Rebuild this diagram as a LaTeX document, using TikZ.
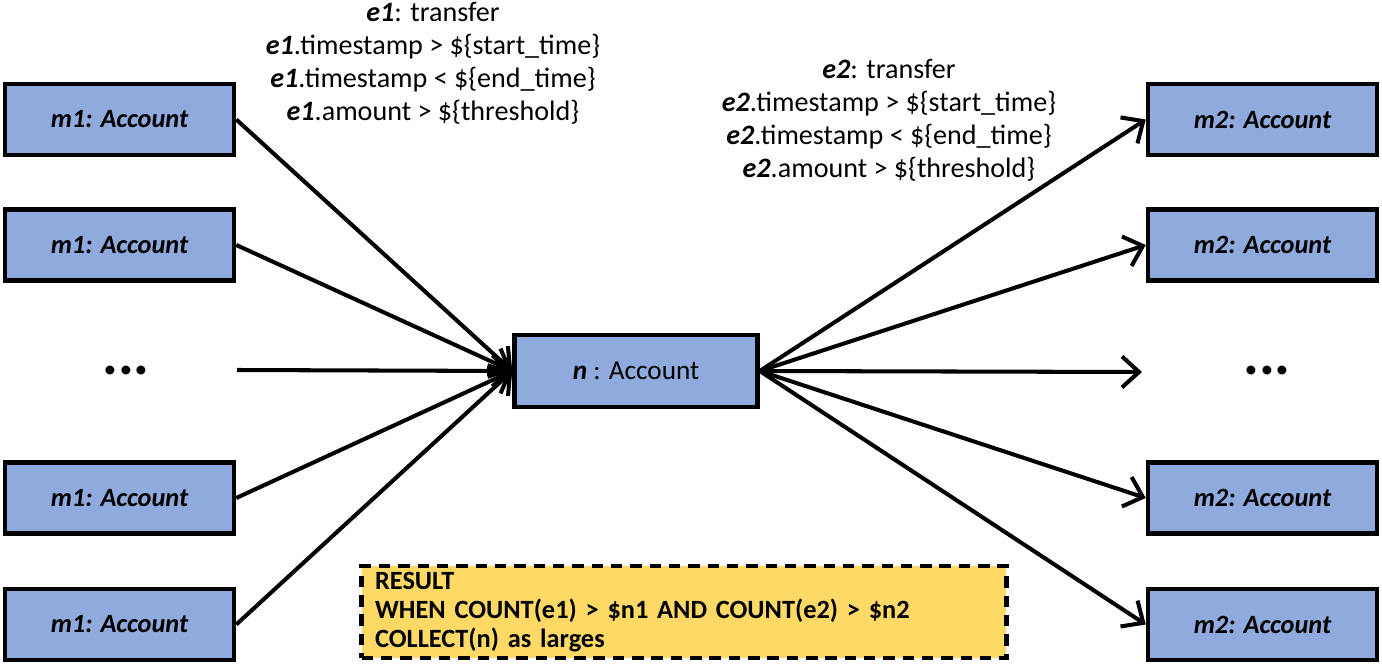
\documentclass[tikz,border=0pt]{standalone}
\usepackage{fontspec}
\setmainfont{Carlito}
\usetikzlibrary{arrows.meta}

\definecolor{acctblue}{HTML}{8FAADC}
\definecolor{resyellow}{HTML}{FFD966}

\tikzset{
    account/.style={draw=black, line width=2.6pt, fill=acctblue,
        minimum width=4.58cm, minimum height=1.42cm, inner sep=0pt,
        font=\fontsize{15}{18}\selectfont\bfseries\itshape},
    hub/.style={account, minimum width=4.86cm, minimum height=1.44cm,
        font=\fontsize{15.5}{18}\selectfont},
    conds/.style={align=center, inner sep=0pt,
        font=\fontsize{16}{18.7}\selectfont},
    edge/.style={line width=2.3pt, -{Straight Barb[length=0.34cm,width=0.62cm,line width=2.3pt]}},
    dots/.style={font=\fontsize{34}{34}\selectfont\bfseries\itshape, inner sep=0pt}
}

\begin{document}
\begin{tikzpicture}[x=0.02cm, y=-0.02cm]
    % Frame
    \useasboundingbox (0,0) rectangle (1382,669);

    % Center account
    \node[hub] (n) at (636,371) {\textbf{\textit{n}} : Account};

    % Left accounts
    \node[account] (m1a) at (119.5,119.5) {m1: Account};
    \node[account] (m1b) at (119.5,245) {m1: Account};
    \node[dots] (ldots) at (127,371) {...};
    \node[account] (m1c) at (119.5,498) {m1: Account};
    \node[account] (m1d) at (119.5,624.5) {m1: Account};
    \coordinate (lmid) at (237,370);

    % Right accounts
    \node[account] (m2a) at (1262.5,119.5) {m2: Account};
    \node[account] (m2b) at (1262.5,245) {m2: Account};
    \node[dots] (rdots) at (1268,371) {...};
    \node[account] (m2c) at (1262.5,498) {m2: Account};
    \node[account] (m2d) at (1262.5,624.5) {m2: Account};
    \coordinate (rmid) at (1142,372);

    % Incoming edges e1
    \foreach \src in {m1a,m1b,m1c,m1d}
        \draw[edge] (\src.east) -- (n.west);
    \draw[edge] (lmid) -- (n.west);

    % Outgoing edges e2
    \foreach \dst in {m2a,m2b,m2c,m2d}
        \draw[edge] (n.east) -- (\dst.west);
    \draw[edge] (n.east) -- (rmid);

    % Edge conditions
    \node[conds] (e1cond) at (433,63) {\textbf{\textit{e1}}: transfer\\
        \textbf{\textit{e1}}.timestamp > \$\{start\_time\}\\
        \textbf{\textit{e1}}.timestamp < \$\{end\_time\}\\
        \textbf{\textit{e1}}.amount > \$\{threshold\}};
    \node[conds] (e2cond) at (889,120) {\textbf{\textit{e2}}: transfer\\
        \textbf{\textit{e2}}.timestamp > \$\{start\_time\}\\
        \textbf{\textit{e2}}.timestamp < \$\{end\_time\}\\
        \textbf{\textit{e2}}.amount > \$\{threshold\}};

    % Result clause
    \node[draw=black, line width=2.4pt, dash pattern=on 6.5pt off 4.5pt,
        fill=resyellow, minimum width=12.9cm, minimum height=1.84cm,
        text width=12.36cm, align=left, inner sep=0pt,
        font=\fontsize{15}{16.4}\selectfont\bfseries] (result) at (684,612)
        {RESULT\\
         WHEN COUNT(e1) > \$n1 AND COUNT(e2) > \$n2\\
         COLLECT(n) as larges};
\end{tikzpicture}
\end{document}
